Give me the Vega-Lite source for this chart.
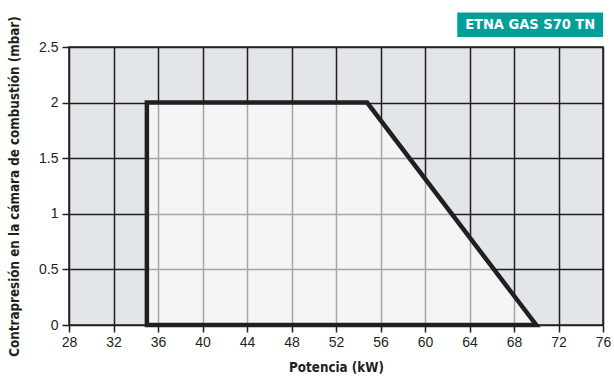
{
  "$schema": "https://vega.github.io/schema/vega-lite/v6.json",
  "width": 534,
  "height": 278,
  "autosize": {"type": "none"},
  "padding": {"left": 69, "top": 47, "right": 11, "bottom": 56},
  "background": "white",
  "view": {"fill": "#e3e6e9", "stroke": "#231f20", "strokeWidth": 1.5},
  "config": {
    "font": "Liberation Sans",
    "axis": {
      "domain": false,
      "grid": true,
      "gridColor": "#231f20",
      "gridWidth": 1.5,
      "gridOpacity": 1,
      "tickColor": "#231f20",
      "tickSize": 7,
      "tickWidth": 1.5,
      "labelFlush": false,
      "labelFont": "Liberation Sans",
      "labelFontSize": 14,
      "labelColor": "#231f20",
      "titleFont": "DejaVu Sans Condensed, Roboto Condensed, Roboto, sans-serif",
      "titleFontWeight": "bold",
      "titleFontSize": 13.3,
      "titleColor": "#231f20"
    }
  },
  "datasets": {
    "zone": [
      {"kW": 35, "mbar": 2, "base": 0},
      {"kW": 54.8, "mbar": 2, "base": 0},
      {"kW": 70, "mbar": 0, "base": 0}
    ],
    "badge": [
      {"x1": 62.9, "x2": 76, "y1": 2.59, "y2": 2.81, "label": "ETNA GAS S70 TN", "xm": 69.45, "ym": 2.7}
    ]
  },
  "layer": [
    {
      "data": {"name": "zone"},
      "mark": {"type": "area", "fill": "white", "fillOpacity": 0.6, "stroke": "#231f20", "strokeWidth": 4.5, "strokeJoin": "miter"},
      "encoding": {
        "x": {
          "field": "kW", "type": "quantitative",
          "scale": {"domain": [28, 76], "nice": false, "zero": false},
          "axis": {"values": [28, 32, 36, 40, 44, 48, 52, 56, 60, 64, 68, 72, 76], "title": "Potencia (kW)", "titlePadding": 11, "labelPadding": 3}
        },
        "y": {
          "field": "mbar", "type": "quantitative",
          "scale": {"domain": [0, 2.5], "nice": false},
          "axis": {"values": [0, 0.5, 1, 1.5, 2, 2.5], "format": "~g", "title": "Contrapresión en la cámara de combustión (mbar)", "titlePadding": 17, "labelPadding": 4}
        },
        "y2": {"field": "base"}
      }
    },
    {
      "data": {"name": "badge"},
      "mark": {"type": "rect", "fill": "#00a099", "clip": false},
      "encoding": {
        "x": {"field": "x1", "type": "quantitative"},
        "x2": {"field": "x2"},
        "y": {"field": "y1", "type": "quantitative"},
        "y2": {"field": "y2"}
      }
    },
    {
      "data": {"name": "badge"},
      "mark": {"type": "text", "color": "white", "fontWeight": "bold", "fontSize": 14.5, "font": "DejaVu Sans Condensed, Roboto Condensed, Roboto, sans-serif", "clip": false},
      "encoding": {
        "x": {"field": "xm", "type": "quantitative"},
        "y": {"field": "ym", "type": "quantitative"},
        "text": {"field": "label"}
      }
    }
  ]
}
